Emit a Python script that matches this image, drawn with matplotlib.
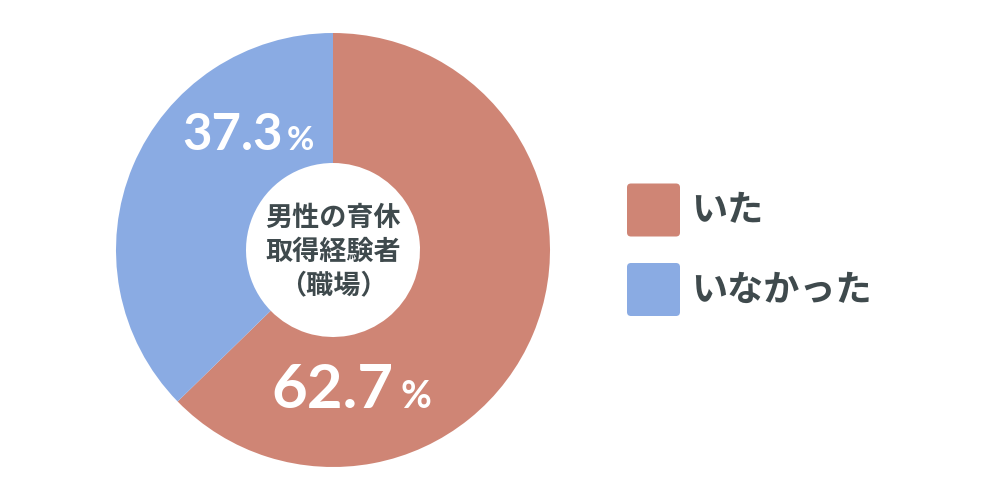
import matplotlib
matplotlib.use("Agg")
import matplotlib.pyplot as plt
from matplotlib.patches import FancyBboxPatch

categories = ["いた", "いなかった"]
values = [62.7, 37.3]
colors = ["#CF8575", "#8AABE3"]
center_lines = ["男性の育休", "取得経験者", "（職場）"]
text_color = "#3F4A4D"

plt.rcParams['font.family'] = ['Noto Sans CJK JP', 'DejaVu Sans']

W, H = 1000, 500
fig = plt.figure(figsize=(10, 5), dpi=100)
fig.patch.set_facecolor("white")

cx, cy, R = 333, 250, 217
ax = fig.add_axes([(cx - R) / W, (cy - R) / H, 2 * R / W, 2 * R / H])
ax.pie(values, colors=colors, startangle=90, counterclock=False,
       radius=1.0, wedgeprops=dict(width=1 - 87 / 217, linewidth=0))
ax.set_xlim(-1, 1)
ax.set_ylim(-1, 1)
ax.set_aspect("equal")
ax.axis("off")

# overlay in pixel coordinates
ov = fig.add_axes([0, 0, 1, 1])
ov.set_xlim(0, W)
ov.set_ylim(H, 0)
ov.axis("off")

num_font = ['Lato', 'DejaVu Sans']
# percentage labels
ov.text(283, 150, f"{values[1]:.1f}", color="white", fontsize=36.5, fontweight="bold",
        family=num_font, ha="right", va="baseline")
ov.text(287, 150, "%", color="white", fontsize=24, fontweight="bold",
        family=num_font, ha="left", va="baseline")
ov.text(394, 408, f"{values[0]:.1f}", color="white", fontsize=44.5, fontweight="bold",
        family=num_font, ha="right", va="baseline")
ov.text(401, 408, "%", color="white", fontsize=27, fontweight="bold",
        family=num_font, ha="left", va="baseline")

# center text
for i, line in enumerate(center_lines):
    ov.text(cx, 218 + i * 33.5, line, color=text_color, fontsize=19.5,
            fontweight="bold", ha="center", va="center")

# legend
legend_y = [210, 289.5]
for lab, col, y in zip(categories, colors, legend_y):
    ov.add_patch(FancyBboxPatch((627, y - 26.5), 53, 53,
                                boxstyle="round,pad=0,rounding_size=4",
                                facecolor=col, edgecolor="none"))
    ov.text(691, y + 1, lab, color=text_color, fontsize=26, fontweight="bold",
            ha="left", va="center")

fig.savefig("out.png", dpi=100, facecolor="white")
